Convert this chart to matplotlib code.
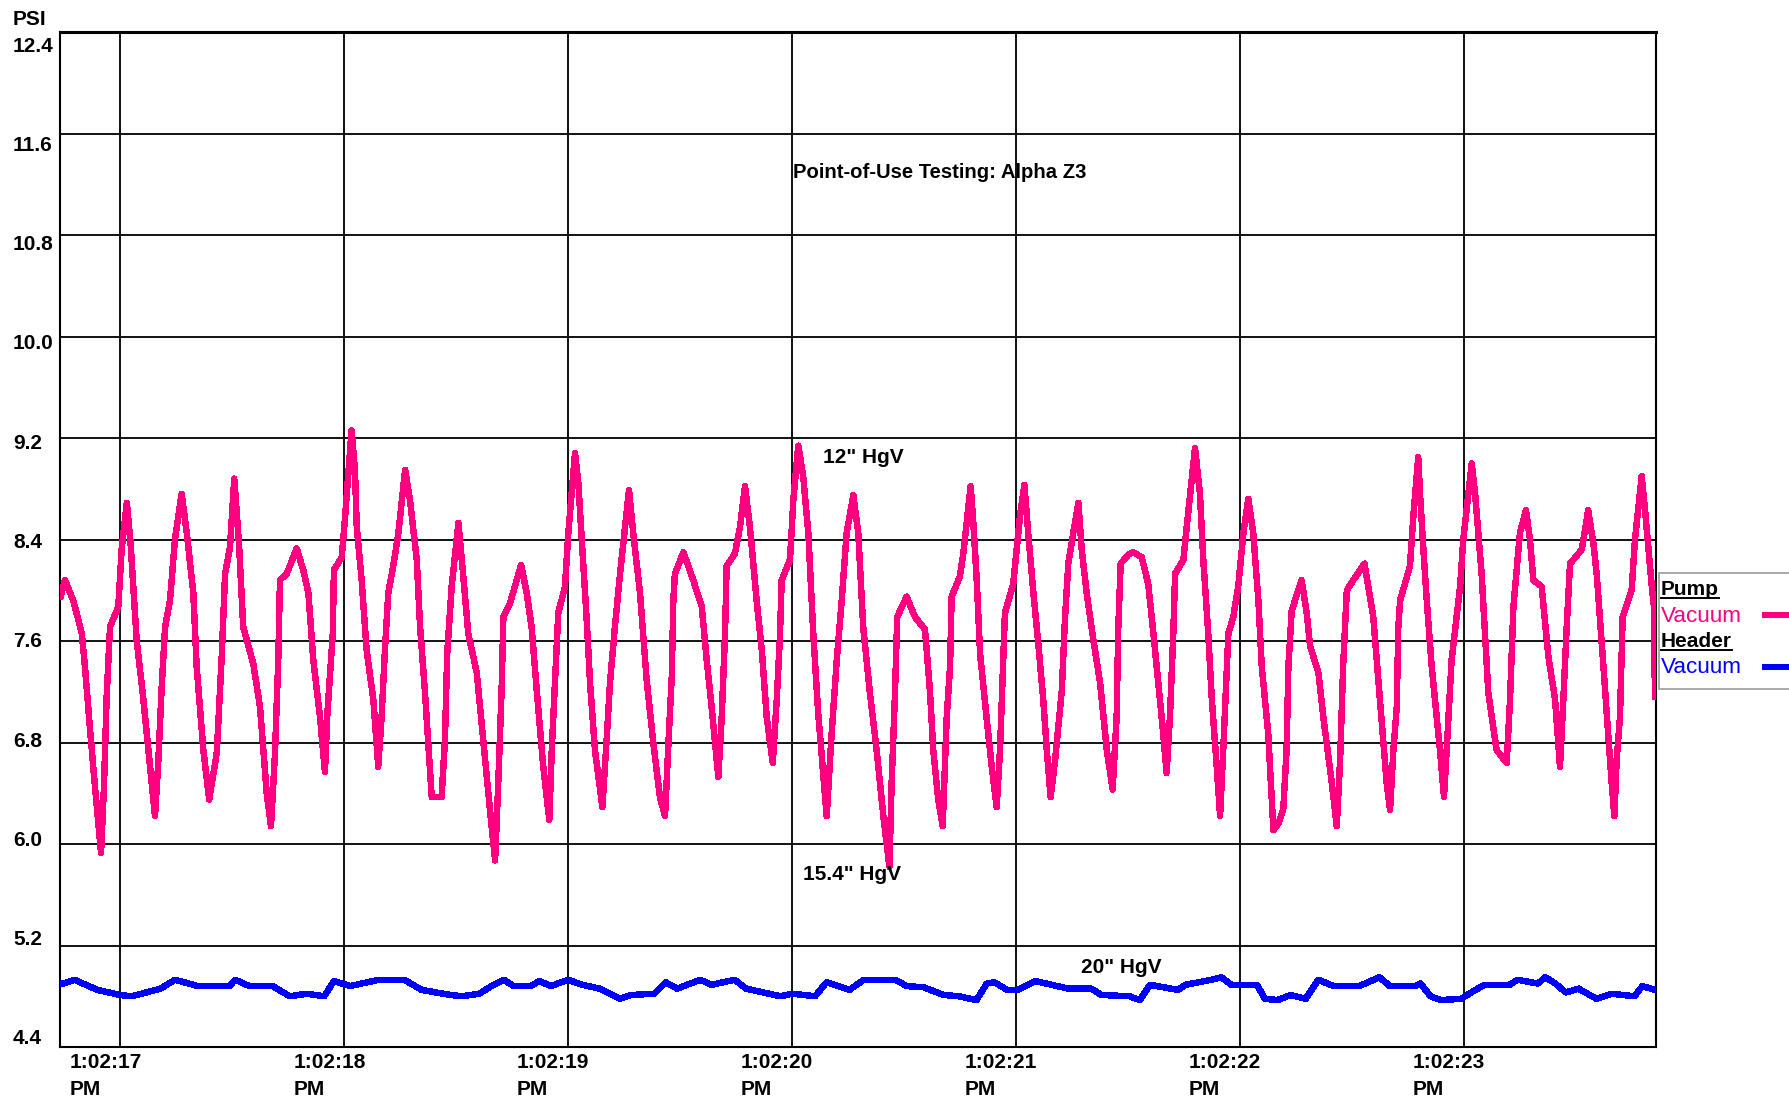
import matplotlib
matplotlib.use('Agg')
import matplotlib.pyplot as plt
from matplotlib.patches import Rectangle
from matplotlib.lines import Line2D

# ------------------------------------------------------------------------------------------
# Point-of-use vacuum test, Alpha Z3
# Time is in seconds after 1:02:00 PM, pressure in PSI
# ------------------------------------------------------------------------------------------

# Pump vacuum
pump_t = [16.734, 16.753, 16.790, 16.828, 16.842, 16.865, 16.887, 16.914, 16.927, 16.939,
          16.954, 16.991, 17.006, 17.029, 17.046, 17.073, 17.103, 17.133, 17.155, 17.170,
          17.185, 17.200, 17.222, 17.244, 17.274, 17.297, 17.326, 17.341, 17.371, 17.397,
          17.431, 17.453, 17.468, 17.490, 17.509, 17.531, 17.549, 17.594, 17.624, 17.654,
          17.673, 17.691, 17.706, 17.713, 17.743, 17.788, 17.817, 17.840, 17.862, 17.892,
          17.914, 17.925, 17.949, 17.954, 17.989, 18.004, 18.033, 18.048, 18.056, 18.078,
          18.100, 18.130, 18.152, 18.167, 18.182, 18.197, 18.219, 18.242, 18.272, 18.294,
          18.324, 18.339, 18.361, 18.391, 18.435, 18.450, 18.460, 18.480, 18.510,
          18.532, 18.554, 18.592, 18.621, 18.651, 18.674, 18.688, 18.703, 18.711, 18.741,
          18.790, 18.815, 18.837, 18.860, 18.889, 18.916, 18.927, 18.941, 18.956, 18.986,
          19.001, 19.031, 19.046, 19.061, 19.083, 19.098, 19.120, 19.153, 19.172, 19.187,
          19.209, 19.232, 19.272, 19.291, 19.321, 19.351, 19.381, 19.410, 19.433, 19.448,
          19.463, 19.470, 19.477, 19.515, 19.559, 19.597, 19.619, 19.641, 19.671, 19.686,
          19.701, 19.708, 19.745, 19.768, 19.790, 19.812, 19.842, 19.865, 19.887, 19.914,
          19.932, 19.946, 19.954, 19.991, 20.006, 20.028, 20.050, 20.073, 20.095, 20.117,
          20.155, 20.177, 20.200, 20.222, 20.244, 20.274, 20.296, 20.318, 20.348, 20.378,
          20.408, 20.435,
          20.445, 20.460, 20.470, 20.512, 20.549, 20.594, 20.616, 20.631, 20.653, 20.673,
          20.691, 20.706, 20.713, 20.750, 20.765, 20.798, 20.810, 20.825, 20.840, 20.870,
          20.892, 20.914, 20.929, 20.951, 20.988, 21.018, 21.038, 21.055, 21.078, 21.100,
          21.122, 21.138, 21.155, 21.175, 21.205, 21.219, 21.234, 21.256, 21.279, 21.294,
          21.316, 21.346, 21.376, 21.406, 21.432, 21.450, 21.457, 21.468, 21.502, 21.524,
          21.562, 21.591, 21.614, 21.636, 21.658, 21.673, 21.688, 21.703, 21.711, 21.748,
          21.763, 21.800, 21.822, 21.837, 21.859, 21.875, 21.897, 21.912, 21.926, 21.949,
          21.971, 21.993, 22.016, 22.038, 22.060, 22.083, 22.098, 22.127, 22.150, 22.172,
          22.194, 22.209, 22.217, 22.232, 22.276, 22.299, 22.314, 22.351,
          22.373, 22.411, 22.433, 22.448, 22.462, 22.478, 22.507, 22.557, 22.574, 22.596,
          22.626, 22.656, 22.671, 22.686, 22.701, 22.708, 22.716, 22.760, 22.775, 22.797,
          22.805, 22.820, 22.835, 22.857, 22.894, 22.912, 22.924, 22.946, 22.984, 22.998,
          23.036, 23.051, 23.080, 23.095, 23.110, 23.147, 23.192, 23.207, 23.222, 23.251,
          23.278, 23.296, 23.311, 23.348, 23.378, 23.408, 23.430, 23.445, 23.460, 23.475,
          23.527, 23.556, 23.579, 23.594, 23.624, 23.661, 23.673, 23.683, 23.698, 23.710,
          23.750, 23.765, 23.795, 23.810, 23.840, 23.850, 23.854]
pump_psi = [7.95, 8.08, 7.92, 7.66, 7.40, 6.90, 6.45, 5.93, 6.45, 7.16,
            7.71, 7.87, 8.32, 8.69, 8.37, 7.61, 7.14, 6.61, 6.22, 6.66,
            7.24, 7.71, 7.92, 8.40, 8.76, 8.45, 7.98, 7.40, 6.74, 6.35,
            6.72, 7.48, 8.13, 8.34, 8.88, 8.34, 7.71, 7.42, 7.08, 6.40,
            6.14, 6.72, 7.48, 8.08, 8.13, 8.33, 8.16, 7.98, 7.45, 7.00,
            6.57, 7.03, 7.66, 8.16, 8.26, 8.58, 9.26, 8.95, 8.50, 8.08,
            7.53, 7.14, 6.61, 7.00, 7.53, 7.98, 8.19, 8.45, 8.95, 8.71,
            8.24, 7.71, 7.19, 6.37, 6.37, 6.82, 7.50, 8.03, 8.53,
            8.11, 7.66, 7.35, 6.82, 6.27, 5.87, 6.48, 7.21, 7.79, 7.90,
            8.20, 7.98, 7.71, 7.21, 6.61, 6.19, 6.74, 7.27, 7.82, 8.03,
            8.45, 9.08, 8.84, 8.40, 7.77, 7.27, 6.74, 6.29, 6.82, 7.27,
            7.71, 8.13, 8.79, 8.45, 7.98, 7.29, 6.79, 6.37, 6.22, 6.79,
            7.32, 7.92, 8.13, 8.30, 8.08, 7.87, 7.45, 7.08, 6.53, 7.00,
            7.66, 8.19, 8.29, 8.50, 8.82, 8.50, 7.92, 7.53, 7.00, 6.64,
            7.14, 7.63, 8.08, 8.24, 8.71, 9.14, 8.90, 8.45, 7.66, 7.03,
            6.22, 6.87, 7.45, 7.92, 8.45, 8.75, 8.45, 7.71, 7.19, 6.74,
            6.22, 5.82,
            6.48, 7.19, 7.79, 7.95, 7.79, 7.69, 7.21, 6.74, 6.35, 6.14,
            7.00, 7.40, 7.95, 8.11, 8.29, 8.82, 8.53, 8.08, 7.50, 6.98,
            6.61, 6.29, 6.74, 7.82, 8.05, 8.58, 8.83, 8.45, 7.98, 7.58,
            7.14, 6.74, 6.37, 6.66, 7.21, 7.77, 8.21, 8.45, 8.69, 8.32,
            7.98, 7.61, 7.27, 6.74, 6.43, 7.00, 7.69, 8.21, 8.28, 8.30,
            8.26, 8.05, 7.66, 7.27, 6.87, 6.56, 7.00, 7.66, 8.13, 8.24,
            8.50, 9.12, 8.76, 8.24, 7.66, 7.14, 6.61, 6.22, 6.74, 7.66,
            7.79, 8.03, 8.45, 8.72, 8.45, 7.92, 7.40, 6.87, 6.11, 6.16,
            6.27, 6.74, 7.40, 7.84, 8.08, 7.82, 7.56, 7.35,
            7.00, 6.48, 6.14, 6.66, 7.42, 8.00, 8.08, 8.21, 8.03, 7.79,
            7.14, 6.48, 6.27, 6.74, 7.08, 7.71, 7.92, 8.19, 8.58, 9.05,
            8.76, 8.32, 7.92, 7.40, 6.74, 6.37, 6.74, 7.45, 8.03, 8.40,
            9.00, 8.76, 8.13, 7.66, 7.19, 6.74, 6.64, 7.14, 7.87, 8.45,
            8.63, 8.40, 8.08, 8.03, 7.48, 7.14, 6.61, 7.14, 7.71, 8.21,
            8.32, 8.63, 8.37, 8.13, 7.40, 6.48, 6.22, 6.66, 7.00, 7.79,
            8.00, 8.40, 8.90, 8.63, 8.03, 7.87, 7.16]

# Header vacuum
header_t = [16.733, 16.744, 16.795, 16.898, 17.000, 17.051, 17.180, 17.244, 17.347, 17.487,
            17.513, 17.577, 17.680, 17.757, 17.833, 17.911, 17.954, 18.026, 18.154, 18.269,
            18.346, 18.474, 18.526, 18.603, 18.667, 18.713, 18.757, 18.833, 18.872, 18.923,
            19.000, 19.064, 19.141, 19.231, 19.282, 19.385, 19.436, 19.487, 19.590, 19.641,
            19.744, 19.795, 19.949, 20.000, 20.103, 20.154, 20.256, 20.321, 20.461, 20.513,
            20.590, 20.676, 20.744, 20.824, 20.870, 20.904, 20.961, 21.006, 21.086, 21.234,
            21.337, 21.382, 21.508, 21.553, 21.599, 21.724, 21.758, 21.872, 21.918, 21.963,
            22.077, 22.112, 22.169, 22.226, 22.294, 22.351, 22.419, 22.533, 22.624, 22.670,
            22.784, 22.807, 22.852, 22.898, 22.989, 23.034, 23.092, 23.205, 23.240, 23.331,
            23.365, 23.410, 23.456, 23.513, 23.593, 23.661, 23.763, 23.798, 23.855]
header_psi = [4.90, 4.90, 4.93, 4.85, 4.81, 4.80, 4.86, 4.93, 4.88, 4.88,
              4.93, 4.88, 4.88, 4.80, 4.82, 4.80, 4.92, 4.88, 4.93, 4.93,
              4.85, 4.81, 4.80, 4.82, 4.89, 4.93, 4.88, 4.88, 4.92, 4.88,
              4.93, 4.89, 4.86, 4.78, 4.81, 4.82, 4.91, 4.86, 4.93, 4.89,
              4.93, 4.86, 4.80, 4.82, 4.80, 4.91, 4.85, 4.93, 4.93, 4.88,
              4.87, 4.81, 4.80, 4.77, 4.90, 4.91, 4.85, 4.85, 4.92, 4.86,
              4.86, 4.81, 4.80, 4.77, 4.89, 4.85, 4.89, 4.93, 4.95, 4.89,
              4.89, 4.78, 4.77, 4.81, 4.78, 4.93, 4.88, 4.88, 4.95, 4.88,
              4.88, 4.90, 4.80, 4.77, 4.78, 4.83, 4.89, 4.89, 4.93, 4.90,
              4.95, 4.90, 4.83, 4.86, 4.78, 4.82, 4.80, 4.88, 4.85]

# Axis ticks
psi_ticks = [12.4, 11.6, 10.8, 10.0, 9.2, 8.4, 7.6, 6.8, 6.0, 5.2, 4.4]
psi_labels = ['12.4', '11.6', '10.8', '10.0', '9.2', '8.4', '7.6', '6.8', '6.0', '5.2', '4.4']
sec_ticks = [17, 18, 19, 20, 21, 22, 23]
sec_labels = ['1:02:17', '1:02:18', '1:02:19', '1:02:20', '1:02:21', '1:02:22', '1:02:23']

# Text notes (time, psi, text)
note_t = [20.138, 20.049, 21.291]
note_psi = [9.05, 5.76, 5.03]
note_text = ['12" HgV', '15.4" HgV', '20" HgV']
title_text = 'Point-of-Use Testing: Alpha Z3'

PINK = '#ff0080'
BLUE = '#0000ff'
FONT = 'Liberation Sans'
FS = 15

W, H = 1790, 1100
PT = 72.0 / 100  # points per pixel

plt.rcParams['font.family'] = FONT

fig = plt.figure(figsize=(W / 100, H / 100), dpi=100, facecolor='white')
ax = fig.add_axes([60 / W, 1 - 1047 / H, 1596 / W, 1015 / H])

# Curves
ax.plot(pump_t, pump_psi, color=PINK, lw=3.9, antialiased=False, zorder=3)
ax.plot(header_t, header_psi, color=BLUE, lw=3.9, antialiased=False, zorder=3)

ax.set_xlim(16.7307, 23.8589)
ax.set_ylim(4.4, 12.4)
ax.set_xticks(sec_ticks)
ax.set_yticks(psi_ticks)
ax.tick_params(length=0, labelbottom=False, labelleft=False)
ax.grid(True, color='#111111', lw=1.4)
ax.set_axisbelow(True)
for side in ['left', 'right', 'bottom']:
    ax.spines[side].set_linewidth(1.5)
ax.spines['top'].set_linewidth(2.2)

# Y labels, left aligned and spread a little tighter than the grid
for i, (val, lab) in enumerate(zip(psi_ticks, psi_labels)):
    dy = (19.5 - 2.2 * i) * PT
    ax.annotate(lab, xy=(13, val), xycoords=('figure pixels', 'data'),
                xytext=(0, -dy), textcoords='offset points',
                ha='left', va='baseline', fontsize=FS, fontweight='bold')
fig.text(13 / W, 1 - 25 / H, 'PSI', ha='left', va='baseline', fontsize=FS, fontweight='bold')

# Time labels
for sec, lab in zip(sec_ticks, sec_labels):
    ax.annotate(lab, xy=(sec, 4.4), xycoords='data', xytext=(-51 * PT, -21 * PT),
                textcoords='offset points', ha='left', va='baseline',
                fontsize=FS, fontweight='bold', annotation_clip=False)
    ax.annotate('PM', xy=(sec, 4.4), xycoords='data', xytext=(-51 * PT, -48 * PT),
                textcoords='offset points', ha='left', va='baseline',
                fontsize=FS, fontweight='bold', annotation_clip=False)

# Title and notes
ax.text(20.006, 11.29, title_text, ha='left', va='center', fontsize=14.6, fontweight='bold')
for t, p, s in zip(note_t, note_psi, note_text):
    ax.text(t, p, s, ha='left', va='center', fontsize=FS, fontweight='bold', zorder=4)

# Legend box on the right
fig.add_artist(Rectangle((1659 / W, 1 - 689 / H), 150 / W, 116 / H, transform=fig.transFigure,
                         facecolor='white', edgecolor='#9a9a9a', lw=1.2))
leg_items = [('Pump', 595, 'black', 'bold', True, FS),
             ('Vacuum', 622, PINK, 'normal', False, 16.2),
             ('Header', 647, 'black', 'bold', True, FS),
             ('Vacuum', 673, BLUE, 'normal', False, 16.2)]
leg_texts = []
for s, base, c, w, under, fs in leg_items:
    txt = fig.text(1661 / W, 1 - base / H, s, ha='left', va='baseline', color=c,
                   fontsize=fs, fontweight=w)
    leg_texts.append((txt, base, under))
for yy, c in [(615, PINK), (667, BLUE)]:
    fig.add_artist(Line2D([1765 / W, 1800 / W], [1 - yy / H, 1 - yy / H],
                          transform=fig.transFigure, color=c, lw=3.2, antialiased=False))

# Underline the group headings
fig.canvas.draw()
for txt, base, under in leg_texts:
    if under:
        bb = txt.get_window_extent()
        fig.add_artist(Line2D([bb.x0 / W, bb.x1 / W], [1 - (base + 3) / H, 1 - (base + 3) / H],
                              transform=fig.transFigure, color='black', lw=1.4))

fig.savefig('out.png', dpi=100, facecolor='white')
